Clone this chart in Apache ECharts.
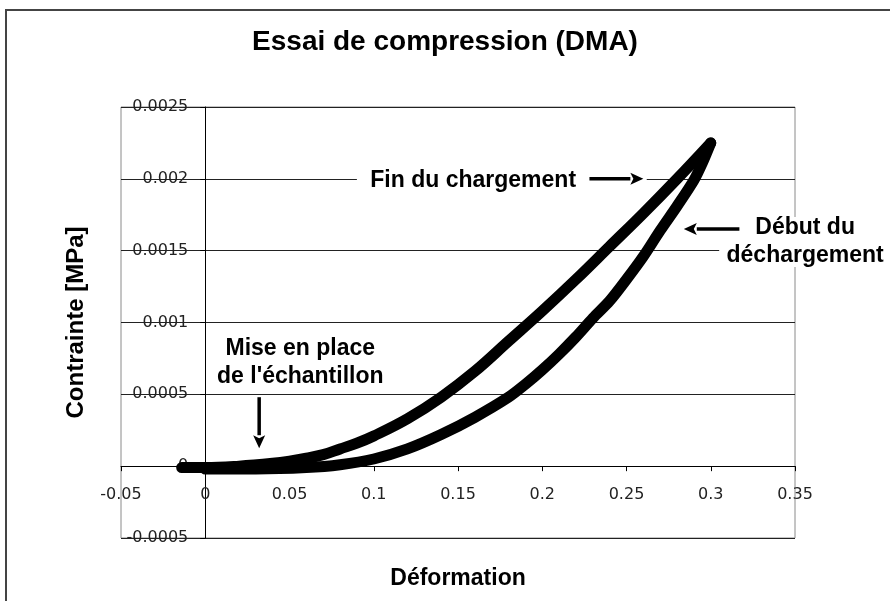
<!DOCTYPE html>
<html>
<head>
<meta charset="utf-8">
<script src="https://cdn.jsdelivr.net/npm/echarts@6/dist/echarts.min.js"></script>
<style>
  html, body { margin: 0; padding: 0; background: #fff; }
  #chart { width: 890px; height: 601px; }
</style>
</head>
<body>
<div id="chart"></div>
<script>
// Texts
const titleText = 'Essai de compression (DMA)';
const xAxisName = 'Déformation';
const yAxisName = 'Contrainte [MPa]';

// Axis ranges and tick steps
const xRange = [-0.05, 0.35];
const xStep = 0.05;
const yRange = [-0.0005, 0.0025];
const yStep = 0.0005;

// Loading path (chargement): strain [-] and stress [MPa]
const loadStrain = [-0.014, 0.0, 0.02, 0.04, 0.05, 0.06, 0.07, 0.08, 0.09, 0.10, 0.12, 0.14, 0.16, 0.18, 0.20, 0.22, 0.24, 0.26, 0.28, 0.30];
const loadStress = [-0.00001, -0.00001, 0.0, 0.00002, 0.000035, 0.000055, 0.00008, 0.00012, 0.00016, 0.00021, 0.00033, 0.00048, 0.00066, 0.00087, 0.00108, 0.0013, 0.00153, 0.00176, 0.002, 0.00225];

// Unloading path (déchargement)
const unloadStrain = [0.30, 0.295, 0.29, 0.28, 0.27, 0.26, 0.25, 0.24, 0.23, 0.22, 0.21, 0.20, 0.19, 0.18, 0.16, 0.14, 0.12, 0.10, 0.08, 0.06, 0.03, 0.0];
const unloadStress = [0.00225, 0.00211, 0.00199, 0.00181, 0.00164, 0.00146, 0.0013, 0.00115, 0.00103, 0.0009, 0.00078, 0.00067, 0.00057, 0.00048, 0.00034, 0.00022, 0.00012, 0.00005, 0.00001, -0.00001, -0.00002, -0.00002];

// Callouts, anchored in data coordinates
const notes = [
  { lines: ['Fin du chargement'], at: [0.159, 0.00199], box: [0.090, 0.262],
    arrowFrom: [0.228, 0.002], arrowTo: [0.260, 0.002] },
  { lines: ['Début du', 'déchargement'], at: [0.356, 0.00156], box: [0.305, 0.42],
    arrowFrom: [0.317, 0.00165], arrowTo: [0.284, 0.00165] },
  { lines: ['Mise en place', "de l'échantillon"], at: [0.0564, 0.000718], box: null,
    arrowFrom: [0.032, 0.00048], arrowTo: [0.032, 0.000125] }
];

const zip = (xs, ys) => xs.map((x, i) => [x, ys[i]]);
const boldFont = '"Liberation Sans", Arial, sans-serif';
const tickFont = '"DejaVu Sans", sans-serif';

const chart = echarts.init(document.getElementById('chart'));

const curveStyle = { color: '#000', width: 11, cap: 'round', join: 'round' };
const gridBox = { left: 121, right: 95, top: 107, bottom: 63 };

chart.setOption({
  backgroundColor: '#fff',
  animation: false,
  title: {
    text: titleText,
    left: 'center',
    top: 28,
    padding: [0, 0, 0, 20],
    textStyle: { fontFamily: boldFont, fontWeight: 'bold', fontSize: 28, color: '#000' }
  },
  grid: Object.assign({
    containLabel: false, outerBoundsMode: 'none',
    show: true, borderColor: '#8a8a8a', borderWidth: 1, backgroundColor: '#fff'
  }, gridBox),
  xAxis: {
    type: 'value', position: 'bottom',
    min: xRange[0], max: xRange[1], interval: xStep,
    name: xAxisName, nameLocation: 'middle', nameGap: 101,
    nameTextStyle: { fontFamily: boldFont, fontWeight: 'bold', fontSize: 23, color: '#000' },
    axisLine: { onZero: false, lineStyle: { color: '#000', width: 1 } },
    axisTick: { show: true, inside: false, length: 5, lineStyle: { color: '#000' } },
    axisLabel: {
      margin: 21, fontFamily: tickFont, fontSize: 16, color: '#222',
      showMinLabel: true, showMaxLabel: true, hideOverlap: false,
      formatter: v => String(+v.toFixed(2))
    },
    splitLine: { show: false }
  },
  yAxis: {
    type: 'value', position: 'left',
    min: yRange[0], max: yRange[1], interval: yStep,
    name: yAxisName, nameLocation: 'middle', nameGap: 117, nameRotate: 90,
    nameTextStyle: { fontFamily: boldFont, fontWeight: 'bold', fontSize: 24, color: '#000' },
    axisLine: { onZero: false, lineStyle: { color: '#000', width: 1 } },
    axisTick: { show: true, inside: false, length: 5, lineStyle: { color: '#000' } },
    axisLabel: {
      margin: 17, fontFamily: tickFont, fontSize: 16, color: '#222',
      showMinLabel: true, showMaxLabel: true, hideOverlap: false,
      formatter: v => String(+v.toFixed(4))
    },
    splitLine: { show: true, lineStyle: { color: '#222', width: 1 } }
  },
  series: [
    {
      name: 'Chargement', type: 'line', data: zip(loadStrain, loadStress),
      showSymbol: false, smooth: 0.4, lineStyle: curveStyle, z: 3
    },
    {
      name: 'Déchargement', type: 'line', data: zip(unloadStrain, unloadStress),
      showSymbol: false, smooth: 0.3, lineStyle: curveStyle, z: 3
    }
  ]
});

const px = p => chart.convertToPixel({ gridIndex: 0 }, p);

// Move both axes (line, ticks, labels, name) onto the origin, Excel style
const origin = px([0, 0]);
const chartH = chart.getHeight();
chart.setOption({
  xAxis: { offset: -((chartH - gridBox.bottom) - origin[1]) },
  yAxis: { offset: -(origin[0] - gridBox.left) }
});

// Callout texts and arrows, placed through the grid's coordinate system
const graphics = [
  // outer chart frame
  { type: 'rect', shape: { x: 6, y: 10, width: 900, height: 620 },
    style: { fill: null, stroke: '#444', lineWidth: 2 }, z: 0, silent: true }
];
const lineH = 28;
notes.forEach(n => {
  const c = px(n.at);
  const h = n.lines.length * lineH;
  if (n.box) {
    const l = px([n.box[0], n.at[1]])[0];
    const r = px([n.box[1], n.at[1]])[0];
    graphics.push({ type: 'rect', shape: { x: l, y: c[1] - h / 2 + 3, width: r - l, height: h - 6 },
      style: { fill: '#fff' }, z: 50 });
  }
  n.lines.forEach((t, i) => {
    graphics.push({ type: 'text', x: c[0], y: c[1] - h / 2 + lineH * (i + 0.5),
      style: { text: t, fill: '#000', font: 'bold 23px ' + boldFont, align: 'center', verticalAlign: 'middle' },
      z: 60 });
  });
  const a = px(n.arrowFrom), b = px(n.arrowTo);
  const dx = b[0] - a[0], dy = b[1] - a[1];
  const len = Math.hypot(dx, dy), ux = dx / len, uy = dy / len;
  const headL = 13, headW = 6;
  const bx = b[0] - ux * headL, by = b[1] - uy * headL;
  graphics.push({ type: 'line', shape: { x1: a[0], y1: a[1], x2: bx, y2: by },
    style: { stroke: '#000', lineWidth: 3.5 }, z: 60 });
  graphics.push({ type: 'polygon', shape: { points: [
      [b[0], b[1]],
      [bx - uy * headW, by + ux * headW],
      [bx + ux * 3, by + uy * 3],
      [bx + uy * headW, by - ux * headW]
    ] }, style: { fill: '#000' }, z: 60 });
});
chart.setOption({ graphic: graphics });
</script>
</body>
</html>
